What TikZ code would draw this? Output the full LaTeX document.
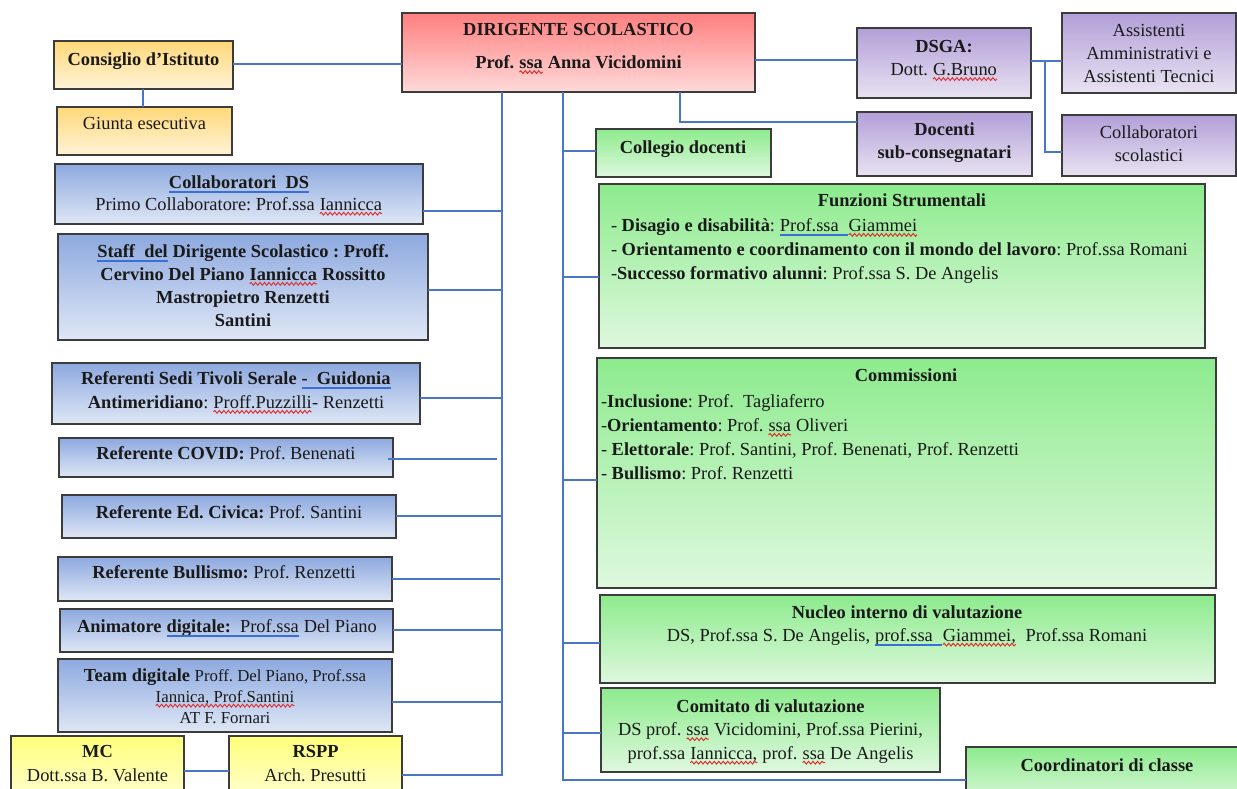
\documentclass[tikz,border=0pt]{standalone}
\usepackage{fontspec}
\setmainfont{Liberation Serif}
\usetikzlibrary{fit,decorations.pathmorphing}
\definecolor{bordc}{HTML}{3C3C3C}
\definecolor{linec}{HTML}{4A76C8}
\definecolor{or1}{HTML}{FFD878}\definecolor{or2}{HTML}{FFF3D8}
\definecolor{bl1}{HTML}{8DA9DF}\definecolor{bl2}{HTML}{DFE7F6}
\definecolor{gr1}{HTML}{8DEB8D}\definecolor{gr2}{HTML}{DFF8DF}
\definecolor{pu1}{HTML}{B29FD8}\definecolor{pu2}{HTML}{E9E3F2}
\definecolor{rd1}{HTML}{FF7F7F}\definecolor{rd2}{HTML}{FFDADA}
\definecolor{ye1}{HTML}{FFFF7A}\definecolor{ye2}{HTML}{FFFFDA}
\definecolor{txtc}{HTML}{1A1A1A}
\definecolor{wavec}{HTML}{E02828}
\definecolor{gramc}{HTML}{3A6FD8}
\newcommand\rw[1]{\tikz[baseline=(rwn.base)]{\node[inner sep=0pt,outer sep=0pt,anchor=base] (rwn) {#1};\draw[wavec,line width=0.9pt,decorate,decoration={snake,amplitude=1.4pt,segment length=4.5pt}] ([yshift=-3.4pt]rwn.base west) -- ([yshift=-3.4pt]rwn.base east);}}
\newcommand\bu[1]{\tikz[baseline=(bun.base)]{\node[inner sep=0pt,outer sep=0pt,anchor=base] (bun) {#1};\draw[gramc,line width=0.6pt] ([yshift=-2.6pt]bun.base west) -- ([yshift=-2.6pt]bun.base east);\draw[gramc,line width=0.6pt] ([yshift=-4.2pt]bun.base west) -- ([yshift=-4.2pt]bun.base east);}}
\tikzset{
  box/.style={draw=bordc, line width=1.3pt, inner sep=0pt, outer sep=0pt},
  orb/.style={box, top color=or1, bottom color=or2},
  blb/.style={box, top color=bl1, bottom color=bl2},
  grb/.style={box, top color=gr1, bottom color=gr2},
  pub/.style={box, top color=pu1, bottom color=pu2},
  rdb/.style={box, top color=rd1, bottom color=rd2},
  yeb/.style={box, top color=ye1, bottom color=ye2},
  conn/.style={draw=linec, line width=1.1pt},
  tx/.style={inner sep=0pt, outer sep=0pt, anchor=north, align=center, text=txtc,
    font=\fontsize{18.4}{#1}\selectfont\frenchspacing},
  tx/.default=23,
  txl/.style={tx=#1, anchor=north west, align=left},
  txl/.default=24,
}
\begin{document}
\begin{tikzpicture}[x=1pt,y=-1pt]
\fill[white] (0,0) rectangle (1237,789);
\useasboundingbox (0,0) rectangle (1237,789);

% ---------- junction coordinates ----------
\coordinate (lb) at (502,775);
\coordinate (rb) at (563,780);
\coordinate (bx) at (1045,152);
\coordinate (dk) at (680,122);

% ---------- boxes ----------
\node[orb, fit={(54,41) (233,89)}] (ci) {};
\node[orb, fit={(57,107) (232,155)}] (ge) {};
\node[rdb, fit={(402,13) (755,92)}] (ds) {};
\node[pub, fit={(857,28) (1031,98)}] (dsga) {};
\node[pub, fit={(857,112) (1032,176)}] (doc) {};
\node[pub, fit={(1062,13) (1236,93)}] (ass) {};
\node[pub, fit={(1062,115) (1236,176)}] (col) {};
\node[grb, fit={(596,129) (771,177)}] (cd) {};
\node[grb, fit={(599,184) (1205,348)}] (fs) {};
\node[grb, fit={(597,358) (1216,588)}] (com) {};
\node[grb, fit={(600,595) (1215,683)}] (niv) {};
\node[grb, fit={(601,688) (940,772)}] (cv) {};
\node[grb, fit={(966,747) (1250,805)}] (coo) {};
\node[blb, fit={(55,164) (423,224)}] (cds) {};
\node[blb, fit={(58,234) (428,340)}] (staff) {};
\node[blb, fit={(52,363) (420,424)}] (rs) {};
\node[blb, fit={(59,438) (393,477)}] (covid) {};
\node[blb, fit={(62,495) (396,538)}] (civ) {};
\node[blb, fit={(58,557) (392,601)}] (bul) {};
\node[blb, fit={(60,609) (393,652)}] (ani) {};
\node[blb, fit={(58,659) (392,732)}] (team) {};
\node[yeb, fit={(11,736) (184,805)}] (mc) {};
\node[yeb, fit={(229,736) (402,805)}] (rspp) {};

% top connectors
\draw[conn] (ci.east |- 0,64) -- (ds.west |- 0,64);
\draw[conn] (ci.south -| 143,0) -- (ge.north -| 143,0);
\draw[conn] (ds.east |- 0,60) -- (dsga.west |- 0,60);
\draw[conn] (ds.south -| dk) -- (dk) -- (doc.west |- dk);
\draw[conn] (dsga.east |- 0,61) -- (ass.west |- 0,61);
\draw[conn] (bx |- 0,61) -- (bx) -- (col.west |- bx);

% left trunk
\draw[conn] (ds.south -| lb) -- (lb) -- (rspp.east |- lb);
\draw[conn] (cds.east |- 0,211) -- (lb |- 0,211);
\draw[conn] (staff.east |- 0,290) -- (lb |- 0,290);
\draw[conn] (rs.east |- 0,398) -- (lb |- 0,398);
\draw[conn] ([xshift=-5pt]covid.east |- 0,459) -- ([xshift=-5pt]lb |- 0,459);
\draw[conn] (civ.east |- 0,516) -- (lb |- 0,516);
\draw[conn] (bul.east |- 0,579) -- ([xshift=-2pt]lb |- 0,579);
\draw[conn] (ani.east |- 0,630) -- (lb |- 0,630);
\draw[conn] (team.east |- 0,702) -- (lb |- 0,702);
\draw[conn] (mc.east |- 0,771) -- (rspp.west |- 0,771);

% right trunk
\draw[conn] (ds.south -| rb) -- (rb) -- (coo.west |- rb);
\draw[conn] (rb |- 0,151) -- (cd.west |- 0,151);
\draw[conn] (rb |- 0,277) -- (fs.west |- 0,277);
\draw[conn] (rb |- 0,480) -- (com.west |- 0,480);
\draw[conn] (rb |- 0,643) -- (niv.west |- 0,643);
\draw[conn] (rb |- 0,733) -- (cv.west |- 0,733);

% ---------- texts ----------
\node[tx] (ciT) at (143.5,52.5) {\textbf{Consiglio d’Istituto}};
\node[tx] (geT) at (144.5,117.5) {Giunta esecutiva};
\node[tx=33] (dsT) at (578.5,23.5) {\textbf{DIRIGENTE SCOLASTICO}\\\textbf{Prof. \rw{ssa} Anna Vicidomini}};
\node[tx] (dsgaT) at (944,40.5) {\textbf{DSGA:}\\Dott. \rw{G.Bruno}};
\node[tx] (docT) at (944.5,122.5) {\textbf{Docenti}\\\textbf{sub-consegnatari}};
\node[tx] (assT) at (1149,24.5) {Assistenti\\Amministrativi e\\Assistenti Tecnici};
\node[tx] (colT) at (1149,125.5) {Collaboratori\\scolastici};
\node[tx] (cdT) at (683,140.5) {\textbf{Collegio docenti}};

\node[tx] (fsT) at (902,193.5) {\textbf{Funzioni Strumentali}};
\node[txl=24] (fsL) at (611,218.5) {- \textbf{Disagio e disabilità}: \bu{Prof.ssa\ \ }\rw{Giammei}\\
- \textbf{Orientamento e coordinamento con il mondo del lavoro}: Prof.ssa Romani\\
-\textbf{Successo formativo alunni}: Prof.ssa S. De Angelis};

\node[tx] (comT) at (906,368.5) {\textbf{Commissioni}};
\node[txl=24] (comL) at (601,394.5) {-\textbf{Inclusione}: Prof.\ \ Tagliaferro\\
-\textbf{Orientamento}: Prof. \rw{ssa} Oliveri\\
- \textbf{Elettorale}: Prof. Santini, Prof. Benenati, Prof. Renzetti\\
- \textbf{Bullismo}: Prof. Renzetti};

\node[tx=23] (nivT) at (907,605.5) {\textbf{Nucleo interno di valutazione}\\DS, Prof.ssa S. De Angelis, \bu{prof.ssa\ \ }\rw{Giammei,}\ \ Prof.ssa Romani};
\node[tx=23.5] (cvT) at (770.5,699.5) {\textbf{Comitato di valutazione}\\DS prof. \rw{ssa} Vicidomini, Prof.ssa Pierini,\\prof.ssa \rw{Iannicca,} prof. \rw{ssa} De Angelis};
\node[tx] (cooT) at (1107,758.5) {\textbf{Coordinatori di classe}};

\node[tx=22] (cdsT) at (239,175.5) {\bu{\textbf{Collaboratori\ \ DS}}\\Primo Collaboratore: Prof.ssa \rw{Iannicca}};
\node[tx=23] (staffT) at (243,244.5) {\textbf{\bu{Staff\ \ del} Dirigente Scolastico : Proff.}\\\textbf{Cervino Del Piano \rw{Iannicca} Rossitto}\\\textbf{Mastropietro Renzetti}\\\textbf{Santini}};
\node[tx=24] (rsT) at (236,371.5) {\textbf{Referenti Sedi Tivoli Serale \bu{-\ \ Guidonia}}\\\textbf{Antimeridiano}: \rw{Proff.Puzzilli}- Renzetti};
\node[tx] (covidT) at (226,446.5) {\textbf{Referente COVID:} Prof. Benenati};
\node[tx] (civT) at (229,505.5) {\textbf{Referente Ed. Civica:} Prof. Santini};
\node[tx] (bulT) at (224,565.5) {\textbf{Referente Bullismo:} Prof. Renzetti};
\node[tx] (aniT) at (227,619.5) {\textbf{Animatore} \bu{\textbf{digitale:}\ \ Prof.ssa} Del Piano};
\node[tx=21] (teamT) at (225,668.5) {\textbf{Team digitale} {\fontsize{16.8}{21}\selectfont Proff. Del Piano, Prof.ssa}\\{\fontsize{16.8}{21}\selectfont \rw{Iannica, Prof.Santini}}\\{\fontsize{16.8}{21}\selectfont AT F. Fornari}};
\node[tx=24] (mcT) at (97.5,745.5) {\textbf{MC}\\Dott.ssa B. Valente};
\node[tx=24] (rsppT) at (315.5,745.5) {\textbf{RSPP}\\Arch. Presutti};
\end{tikzpicture}
\end{document}
